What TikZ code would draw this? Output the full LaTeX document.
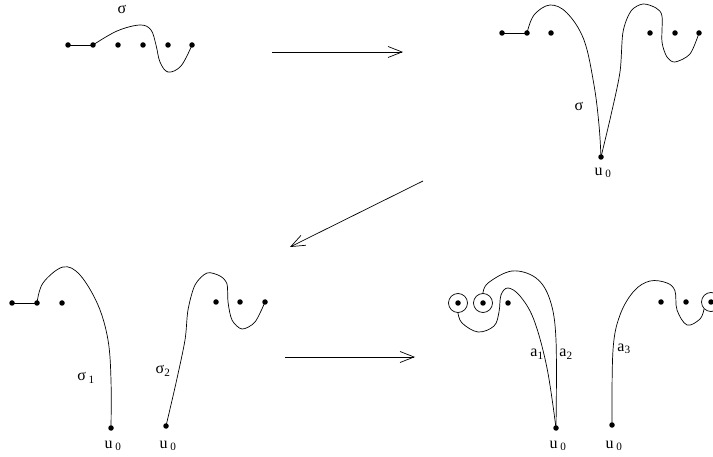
\documentclass[tikz,border=0pt]{standalone}
\usepackage{fontspec}
\setmainfont{Liberation Serif}
\usetikzlibrary{arrows.meta}
\begin{document}
\begin{tikzpicture}[x=1pt,y=-1pt,
  pt/.style={fill=black,circle,inner sep=0pt,minimum size=5.5pt},
  curve/.style={line width=0.7pt},
  bigarrow/.style={line width=0.7pt,-{Straight Barb[length=14pt,width=11pt,line width=0.7pt]}},
  lbl/.style={font=\fontsize{16}{18}\selectfont,inner sep=0pt},
  ring/.style={draw,circle,line width=0.7pt,minimum size=19pt,inner sep=0pt}]
\useasboundingbox (0,0) rectangle (713,457);
% ---------- top left
\foreach \n/\x in {1/68,2/93,3/118,4/143,5/168,6/192} \node[pt] (a\n) at (\x,45) {};
\draw[curve] (a1.center) -- (a2.center);
\draw[curve] plot[smooth,tension=0.6] coordinates {(93,45) (117,31) (140,25) (151,30) (156,45) (160,62) (168,72) (181,66) (192,45)};
\node[lbl] (s0) at (122,9) {σ};
% ---------- top right
\foreach \n/\x in {1/502,2/527,3/551,4/650,5/675,6/699} \node[pt] (b\n) at (\x,33) {};
\node[pt] (bu) at (601,157) {};
\draw[curve] (b1.center) -- (b2.center);
\draw[curve] plot[smooth,tension=0.6] coordinates {(527,33) (534,15) (550,5) (567,13) (584,40) (594,85) (599,125) (601,157)};
\draw[curve] plot[smooth,tension=0.5] coordinates {(601,157) (611,115) (620,72) (623,32) (631,11) (643,4) (656,8) (662,16) (662,42) (667,57) (675,62) (690,54) (699,33)};
\node[lbl] (s1) at (579,106) {σ};
\node[lbl] (u1) at (603,173) {u\,\textsubscript{0}};
% ---------- arrows
\coordinate (ar1s) at (272,52); \coordinate (ar1e) at (403,52);
\draw[bigarrow] (ar1s) -- (ar1e);
\coordinate (ar2s) at (423,181); \coordinate (ar2e) at (290,247);
\draw[bigarrow] (ar2s) -- (ar2e);
\coordinate (ar3s) at (285,357); \coordinate (ar3e) at (415,357);
\draw[bigarrow] (ar3s) -- (ar3e);
% ---------- bottom left
\foreach \n/\x in {1/12,2/37,3/62} \node[pt] (c\n) at (\x,303) {};
\node[pt] (cu) at (111,428) {};
\draw[curve] (c1.center) -- (c2.center);
\draw[curve] plot[smooth,tension=0.6] coordinates {(37,303) (43,283) (63,267) (80,275) (98,305) (108,340) (111,380) (111,428)};
\node[lbl] (s2) at (86,378) {σ\,\textsubscript{1}};
\node[lbl] (u2) at (113,446) {u\,\textsubscript{0}};
\foreach \n/\x in {1/216,2/240,3/265} \node[pt] (d\n) at (\x,302) {};
\node[pt] (du) at (166,426) {};
\draw[curve] plot[smooth,tension=0.5] coordinates {(166,426) (176,383) (185,340) (188,310) (195,285) (207,273) (220,276) (227,284) (228,302) (232,320) (242,329) (255,322) (265,302)};
\node[lbl] (s3) at (163,371) {σ\textsubscript{2}};
\node[lbl] (u3) at (168,446) {u\,\textsubscript{0}};
% ---------- bottom right
\node[ring] (r1) at (458,303) {};
\node[ring] (r2) at (483,303) {};
\node[ring] (r3) at (711,302) {};
\node[pt] at (r1.center) {};
\node[pt] at (r2.center) {};
\node[pt] at (r3.center) {};
\node[pt] (e3) at (508,303) {};
\node[pt] (e4) at (661,302) {};
\node[pt] (e5) at (686,302) {};
\node[pt] (eu1) at (556,428) {};
\node[pt] (eu2) at (612,425) {};
\draw[curve] plot[smooth,tension=0.6] coordinates {(r1.south) (462,323) (478,332) (494,326) (499,312) (501,295) (508,288) (520,296) (534,320) (547,368) (556,428)};
\draw[curve] plot[smooth,tension=0.6] coordinates {(r2.north) (488,283) (512,271) (536,278) (550,300) (556,340) (556,428)};
\draw[curve] plot[smooth,tension=0.6] coordinates {(612,425) (613,350) (620,315) (634,291) (650,281) (667,283) (675,291) (677,310) (687,325) (700,319) (r3.south west)};
\node[lbl] (la1) at (537,354) {a\textsubscript{1}};
\node[lbl] (la2) at (566,354) {a\textsubscript{2}};
\node[lbl] (la3) at (624,349) {a\textsubscript{3}};
\node[lbl] (u4) at (558,446) {u\,\textsubscript{0}};
\node[lbl] (u5) at (614,446) {u\,\textsubscript{0}};
\end{tikzpicture}
\end{document}
